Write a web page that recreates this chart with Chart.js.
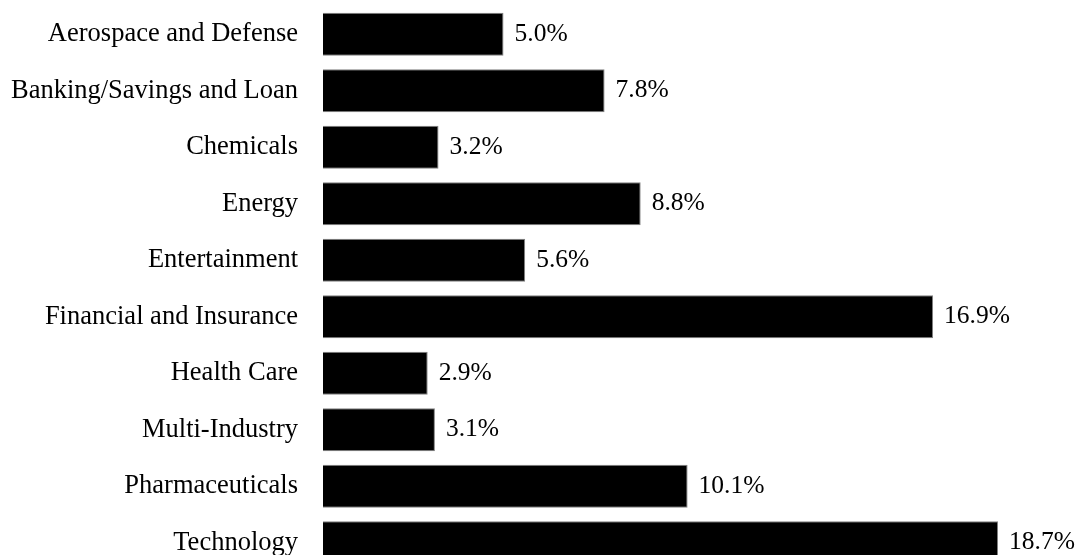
<!DOCTYPE html>
<html>
<head>
<meta charset="utf-8">
<script src="https://cdn.jsdelivr.net/npm/chart.js@4"></script>
<style>
  html, body { margin: 0; padding: 0; background: #fff; overflow: hidden; }
  canvas { display: block; }
</style>
</head>
<body>
<canvas id="chart" width="1078" height="571"></canvas>
<script>
const industries = [
  "Aerospace and Defense",
  "Banking/Savings and Loan",
  "Chemicals",
  "Energy",
  "Entertainment",
  "Financial and Insurance",
  "Health Care",
  "Multi-Industry",
  "Pharmaceuticals",
  "Technology",
];
const shares = [5.0, 7.8, 3.2, 8.8, 5.6, 16.9, 2.9, 3.1, 10.1, 18.7];

const FONT = "'Liberation Serif', 'Times New Roman', serif";

// percentage text just past the end of each bar
const valueLabels = {
  id: "valueLabels",
  afterDatasetsDraw(chart) {
    const ctx = chart.ctx;
    const meta = chart.getDatasetMeta(0);
    ctx.save();
    ctx.font = "25.5px " + FONT;
    ctx.fillStyle = "#000";
    ctx.textAlign = "left";
    ctx.textBaseline = "middle";
    meta.data.forEach((bar, i) => {
      ctx.fillText(shares[i].toFixed(1) + "%", bar.x + 11, bar.y);
    });
    ctx.restore();
  },
};

new Chart(document.getElementById("chart"), {
  type: "bar",
  data: {
    labels: industries,
    datasets: [
      {
        data: shares,
        backgroundColor: "#000",
        borderColor: "#808080",
        borderWidth: 1,
        barPercentage: 0.76,
        categoryPercentage: 1,
      },
    ],
  },
  options: {
    indexAxis: "y",
    responsive: false,
    animation: false,
    layout: {
      padding: { top: 6, right: 33, bottom: 0, left: 0 },
    },
    scales: {
      x: {
        display: false,
        min: 0,
        max: 20,
      },
      y: {
        grid: { display: false, drawTicks: false },
        border: { display: false },
        ticks: {
          color: "#000",
          padding: 25,
          font: { family: FONT, size: 26.5 },
        },
        afterFit(scale) {
          scale.width = 323;
          scale.paddingTop = 0;
          scale.paddingBottom = 0;
        },
      },
    },
    plugins: {
      legend: { display: false },
      tooltip: { enabled: false },
    },
  },
  plugins: [valueLabels],
});
</script>
</body>
</html>
